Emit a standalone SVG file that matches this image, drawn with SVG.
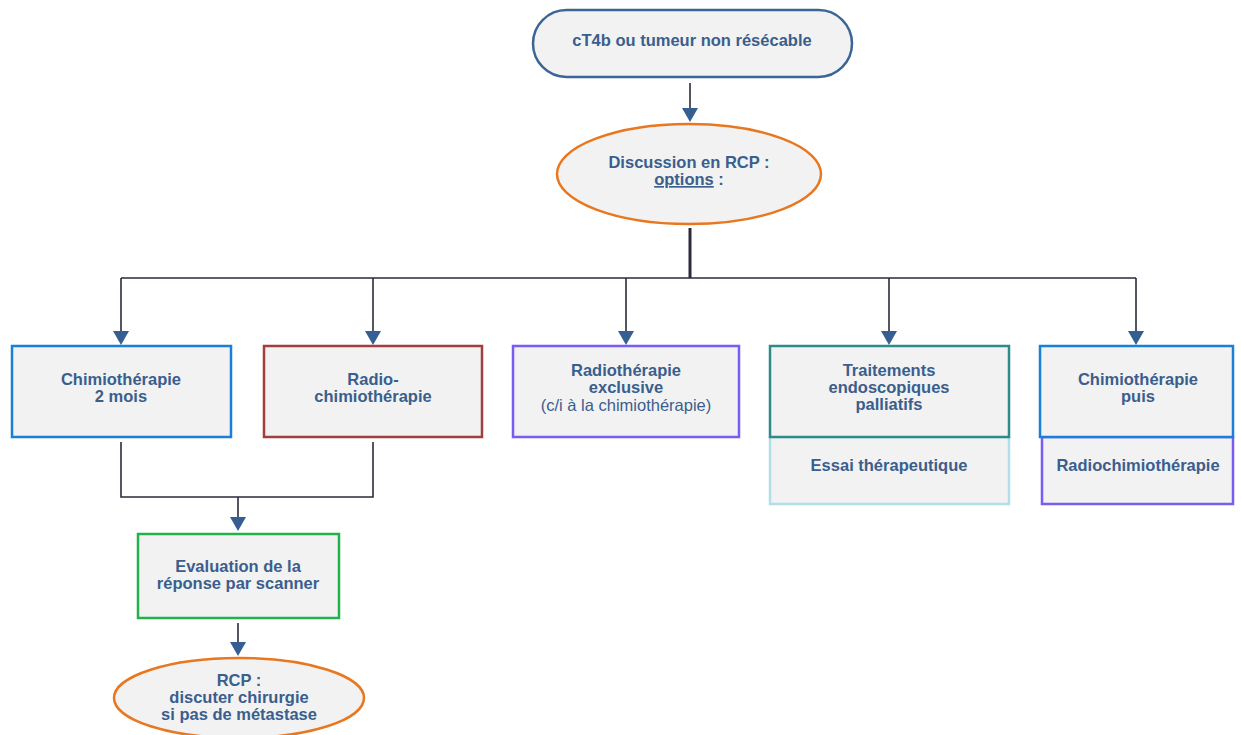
<svg xmlns="http://www.w3.org/2000/svg" width="1241" height="735" viewBox="0 0 1241 735">
<style>
.t{font-family:"Liberation Sans",Arial,sans-serif;font-size:16.5px;font-weight:bold;fill:#3a5e8d;text-anchor:middle}
.n{font-weight:normal}
.box{fill:#f2f2f2;stroke-width:2.5}
.ln{fill:none;stroke:#2b2b3c;stroke-width:1.6}
</style>
<defs>
<marker id="ah" markerWidth="16" markerHeight="14" refX="8" refY="14" orient="auto" markerUnits="userSpaceOnUse" viewBox="0 0 16 14">
<path d="M0,0 L16,0 L8,14 Z" fill="#355f92"/>
</marker>
</defs>
<rect width="1241" height="735" fill="#fff"/>
<g id="connectors">
<path class="ln" d="M690,83 V108"/>
<path d="M682,108 H698 L690,122 Z" fill="#355f92"/>
<path class="ln" d="M690,228 V278" style="stroke-width:3"/>
<path class="ln" d="M121,278 H1136"/>
<path class="ln" d="M121,278 V331"/><path d="M113,331 H129 L121,345 Z" fill="#355f92"/>
<path class="ln" d="M373,278 V331"/><path d="M365,331 H381 L373,345 Z" fill="#355f92"/>
<path class="ln" d="M626,278 V331"/><path d="M618,331 H634 L626,345 Z" fill="#355f92"/>
<path class="ln" d="M889,278 V331"/><path d="M881,331 H897 L889,345 Z" fill="#355f92"/>
<path class="ln" d="M1136,278 V331"/><path d="M1128,331 H1144 L1136,345 Z" fill="#355f92"/>
<path class="ln" d="M121,442 V497 H373 V442"/>
<path class="ln" d="M238,497 V517"/><path d="M230,517 H246 L238,531 Z" fill="#355f92"/>
<path class="ln" d="M238,623 V642"/><path d="M230,642 H246 L238,656 Z" fill="#355f92"/>
</g>
<g id="n-top">
<rect x="533" y="10" width="319" height="67" rx="33.5" class="box" stroke="#3a6596"/>
<text class="t" x="692" y="46">cT4b ou tumeur non résécable</text>
</g>
<g id="n-rcp">
<ellipse cx="689" cy="174" rx="132" ry="50" class="box" stroke="#e8771f"/>
<text class="t" x="689" y="168">Discussion en RCP :</text>
<text class="t" x="689" y="185"><tspan text-decoration="underline">options</tspan> :</text>
</g>
<g id="n-chimio">
<rect x="12" y="346" width="219" height="91" class="box" stroke="#1a7fd6"/>
<text class="t" x="121" y="385">Chimiothérapie</text>
<text class="t" x="121" y="402">2 mois</text>
</g>
<g id="n-radiochimio">
<rect x="264" y="346" width="218" height="91" class="box" stroke="#a33e3e"/>
<text class="t" x="373" y="385">Radio-</text>
<text class="t" x="373" y="402">chimiothérapie</text>
</g>
<g id="n-radio">
<rect x="513" y="346" width="226" height="91" class="box" stroke="#7a5cf2"/>
<text class="t" x="626" y="376">Radiothérapie</text>
<text class="t" x="626" y="393">exclusive</text>
<text class="t n" x="626" y="411">(c/i à la chimiothérapie)</text>
</g>
<g id="n-endo">
<rect x="770" y="437" width="239" height="67" class="box" stroke="#b3dde9"/>
<rect x="770" y="346" width="239" height="91" class="box" stroke="#2f8a8c"/>
<text class="t" x="889" y="376">Traitements</text>
<text class="t" x="889" y="393">endoscopiques</text>
<text class="t" x="889" y="410">palliatifs</text>
<text class="t" x="889" y="471">Essai thérapeutique</text>
</g>
<g id="n-chimiopuis">
<rect x="1042" y="437" width="191" height="67" class="box" stroke="#7a5cf2"/>
<rect x="1040" y="346" width="193" height="91" class="box" stroke="#1a7fd6"/>
<text class="t" x="1138" y="385">Chimiothérapie</text>
<text class="t" x="1138" y="402">puis</text>
<text class="t" x="1138" y="471">Radiochimiothérapie</text>
</g>
<g id="n-eval">
<rect x="138" y="534" width="201" height="84" class="box" stroke="#22b24c"/>
<text class="t" x="238" y="572">Evaluation de la</text>
<text class="t" x="238" y="589">réponse par scanner</text>
</g>
<g id="n-rcp2">
<ellipse cx="239" cy="698" rx="125" ry="40" class="box" stroke="#e8771f"/>
<text class="t" x="239" y="686">RCP :</text>
<text class="t" x="239" y="703">discuter chirurgie</text>
<text class="t" x="239" y="720">si pas de métastase</text>
</g>
</svg>
